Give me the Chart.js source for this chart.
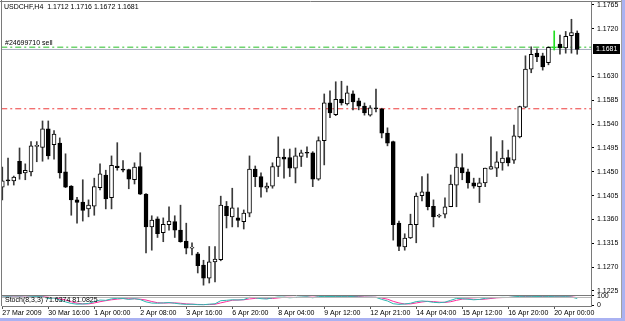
<!DOCTYPE html>
<html><head><meta charset="utf-8">
<script src="https://cdn.jsdelivr.net/npm/chart.js@4/dist/chart.umd.min.js"></script>
<style>
html,body{margin:0;padding:0;background:#fff;}
#wrap{position:relative;width:625px;height:321px;overflow:hidden;background:#fff;}
#band{position:absolute;left:0;top:0;width:625px;height:321px;box-sizing:border-box;border-right:3px solid #aab2f2;border-bottom:3px solid #aab2f2;}
#vline{position:absolute;left:621px;top:0;width:1px;height:318px;background:#a0a0a0;}
canvas{position:absolute;left:0;top:0;}
</style></head><body>
<div id="wrap"><div id="band"></div><div id="vline"></div><canvas id="c" width="625" height="321"></canvas></div>
<script>
const symbolTitle = 'USDCHF,H4  1.1712 1.1716 1.1672 1.1681';
const orderLabel = '#24699710 sell';
const stochLabel = 'Stoch(8,3,3) 71.6374 81.0825';
const timeLabels = ['27 Mar 2009','30 Mar 16:00','1 Apr 00:00','2 Apr 08:00','3 Apr 16:00','6 Apr 20:00','8 Apr 04:00','9 Apr 12:00','12 Apr 21:00','14 Apr 04:00','15 Apr 12:00','16 Apr 20:00','20 Apr 00:00'];
const timeLabelBars = [0,8,16,24,32,40,48,56,64,72,80,88,96];
const priceTicks = [1.1765,1.1720,1.1630,1.1585,1.1540,1.1495,1.1450,1.1405,1.1360,1.1315,1.1270,1.1225];
const stochTicks = [0,100];
const orderPrice = 1.1685;
const stopPrice = 1.1569;
const bidPrice = 1.1681;

const opens = [1.1421,1.1435,1.1433,1.1470,1.1448,1.1450,1.1498,1.1496,1.1531,1.1501,
1.1504,1.1450,1.1423,1.1397,1.1393,1.1380,1.1385,1.1420,1.1444,1.1401,
1.1461,1.1455,1.1454,1.1435,1.1460,1.1408,1.1346,1.1361,1.1335,1.1350,
1.1356,1.1340,1.1319,1.1306,1.1295,1.1274,1.1249,1.1280,1.1284,1.1385,
1.1365,1.1363,1.1356,1.1372,1.1455,1.1441,1.1419,1.1423,1.1460,1.1478,
1.1477,1.1457,1.1479,1.1486,1.1486,1.1436,1.1509,1.1580,1.1558,1.1587,
1.1578,1.1597,1.1584,1.1574,1.1557,1.1571,1.1569,1.1523,1.1507,1.1353,
1.1308,1.1325,1.1350,1.1405,1.1412,1.1385,1.1366,1.1370,1.1384,1.1425,
1.1458,1.1450,1.1429,1.1422,1.1429,1.1455,1.1457,1.1467,1.1477,1.1472,
1.1516,1.1572,1.1644,1.1674,1.1669,1.1656,1.1684,1.1691,1.1684,1.1707,1.1712];
const highs = [1.1459,1.1476,1.1442,1.1495,1.1465,1.1507,1.1507,1.1546,1.1546,1.1528,
1.1514,1.1484,1.1424,1.1402,1.1435,1.1397,1.1438,1.1465,1.1453,1.1480,
1.1505,1.1471,1.1455,1.1467,1.1486,1.1409,1.1367,1.1365,1.1363,1.1384,
1.1367,1.1387,1.1353,1.1316,1.1298,1.1283,1.1309,1.1309,1.1404,1.1394,
1.1419,1.1382,1.1378,1.1480,1.1461,1.1448,1.1429,1.1467,1.1516,1.1493,
1.1493,1.1495,1.1491,1.1497,1.1488,1.1516,1.1597,1.1603,1.1620,1.1621,
1.1612,1.1603,1.1589,1.1580,1.1575,1.1606,1.1570,1.1533,1.1508,1.1357,
1.1333,1.1370,1.1410,1.1441,1.1446,1.1397,1.1370,1.1401,1.1444,1.1484,
1.1484,1.1455,1.1438,1.1438,1.1457,1.1516,1.1488,1.1509,1.1491,1.1538,
1.1574,1.1669,1.1686,1.1682,1.1674,1.1686,1.1716,1.1708,1.1715,1.1738,1.1716];
const lows = [1.1397,1.1425,1.1425,1.1436,1.1435,1.1442,1.1469,1.1470,1.1474,1.1474,
1.1438,1.1420,1.1368,1.1353,1.1357,1.1365,1.1368,1.1416,1.1380,1.1380,
1.1453,1.1450,1.1418,1.1427,1.1407,1.1297,1.1302,1.1326,1.1318,1.1340,
1.1326,1.1317,1.1295,1.1293,1.1259,1.1236,1.1240,1.1242,1.1282,1.1344,
1.1346,1.1346,1.1342,1.1365,1.1422,1.1402,1.1412,1.1419,1.1441,1.1438,
1.1441,1.1429,1.1460,1.1477,1.1422,1.1434,1.1463,1.1552,1.1556,1.1576,
1.1576,1.1567,1.1567,1.1557,1.1555,1.1563,1.1514,1.1499,1.1321,1.1301,
1.1302,1.1324,1.1316,1.1395,1.1378,1.1346,1.1364,1.1363,1.1384,1.1384,
1.1435,1.1419,1.1419,1.1392,1.1422,1.1455,1.1441,1.1453,1.1461,1.1466,
1.1514,1.1571,1.1637,1.1658,1.1642,1.1652,1.1680,1.1672,1.1674,1.1674,1.1672];
const closes = [1.1433,1.1433,1.1440,1.1446,1.1453,1.1499,1.1499,1.1531,1.1480,1.1521,
1.1448,1.1421,1.1397,1.1392,1.1377,1.1387,1.1422,1.1446,1.1399,1.1462,
1.1458,1.1453,1.1436,1.1459,1.1408,1.1346,1.1359,1.1333,1.1351,1.1357,
1.1340,1.1318,1.1306,1.1307,1.1273,1.1249,1.1280,1.1285,1.1387,1.1367,
1.1382,1.1358,1.1372,1.1455,1.1441,1.1421,1.1423,1.1460,1.1478,1.1474,
1.1457,1.1480,1.1486,1.1485,1.1436,1.1509,1.1580,1.1561,1.1587,1.1580,
1.1599,1.1582,1.1574,1.1561,1.1571,1.1569,1.1523,1.1504,1.1350,1.1309,
1.1325,1.1351,1.1404,1.1412,1.1384,1.1365,1.1367,1.1384,1.1427,1.1459,
1.1448,1.1429,1.1423,1.1429,1.1457,1.1460,1.1469,1.1476,1.1467,1.1518,
1.1573,1.1644,1.1672,1.1667,1.1648,1.1685,1.1684,1.1684,1.1706,1.1713,1.1681];
const stochMain = [88,90,86,88,84,90,92,90,72,78,55,35,18,10,12,18,38,55,52,68,74,72,62,70,60,
35,22,20,24,28,20,12,8,9,5,4,10,14,48,52,58,56,60,84,80,70,
66,80,88,86,80,84,88,90,80,92,95,93,95,94,96,92,88,85,86,84,
62,45,15,8,12,20,38,45,40,30,26,32,52,72,70,
64,58,62,74,80,82,84,83,90,95,97,96,94,90,93,91,90,92,88,71.6];
const stochSignal = [86,88,88,88,86,87,89,91,85,80,68,56,36,21,13,13,23,37,48,58,65,71,69,68,64,
55,39,26,22,24,24,20,13,10,7,6,6,9,24,38,53,55,58,67,73,78,
72,72,78,85,85,83,84,87,86,87,89,93,94,94,95,94,92,88,86,85,
77,64,41,23,12,13,23,34,41,38,32,29,37,52,65,
69,64,61,65,72,79,82,83,86,89,94,96,96,93,92,91,91,91,90,81.1];

const FONT = '"Liberation Sans", Arial, sans-serif';
const xMin = -0.05, xMax = 102.4;
const idx = opens.map((_, i) => i);
const bodyData = idx.map(i => ({x: i, y: [opens[i], closes[i]]}));
const wickData = idx.map(i => ({x: i, y: [lows[i], highs[i]]}));
const DOJI = '#22dd22';
const bodyFill = idx.map(i => closes[i] > opens[i] ? '#ffffff' : (closes[i] < opens[i] ? '#000000' : DOJI));
const bodyEdge = idx.map(i => closes[i] === opens[i] ? DOJI : '#000000');
const wickColor = idx.map(i => closes[i] === opens[i] ? DOJI : '#3a3a3a');
const hline = v => [{x: xMin - 5, y: v}, {x: xMax + 5, y: v}];
const noPad = sc => { sc.paddingTop = 0; sc.paddingBottom = 0; sc.paddingLeft = 0; sc.paddingRight = 0; };

const decor = {
  id: 'decor',
  afterDraw(chart) {
    const {ctx, chartArea: a, scales} = chart;
    const y = scales.y, s = scales.s;
    ctx.save();
    ctx.strokeStyle = '#7a7a7a';
    ctx.lineWidth = 1;
    ctx.beginPath();
    ctx.moveTo(0, a.top - 0.5); ctx.lineTo(621, a.top - 0.5);
    ctx.moveTo(a.left - 0.5, 0); ctx.lineTo(a.left - 0.5, a.bottom);
    ctx.moveTo(a.left, y.bottom + 0.5); ctx.lineTo(a.right, y.bottom + 0.5);
    ctx.stroke();
    ctx.strokeStyle = '#b8b8b8';
    ctx.beginPath();
    ctx.moveTo(a.left, s.top + 2.5); ctx.lineTo(a.right, s.top + 2.5);
    ctx.stroke();
    ctx.fillStyle = '#000';
    ctx.font = '7px ' + FONT;
    ctx.textBaseline = 'middle';
    ctx.textAlign = 'left';
    ctx.fillText(symbolTitle, a.left + 2, a.top + 5.5);
    const oy = y.getPixelForValue(orderPrice);
    ctx.fillText(orderLabel, a.left + 3, oy - 4.5);
    ctx.fillText(stochLabel, a.left + 3, s.top + 5);
    const by = Math.round(y.getPixelForValue(bidPrice));
    ctx.fillStyle = '#000';
    ctx.fillRect(a.right + 2, by - 5, 27, 10);
    ctx.fillStyle = '#fff';
    ctx.fillText(bidPrice.toFixed(4), a.right + 5, by);
    ctx.restore();
  }
};

new Chart(document.getElementById('c'), {
  type: 'bar',
  data: { datasets: [
    { type: 'line', data: hline(orderPrice), yAxisID: 'y', xAxisID: 'x', borderColor: '#6fd46f', borderWidth: 1.5, borderDash: [6,3,2,3], pointRadius: 0, order: 4 },
    { type: 'line', data: hline(stopPrice), yAxisID: 'y', xAxisID: 'x', borderColor: '#ee3b3b', borderWidth: 1, borderDash: [6,3,2,3], pointRadius: 0, order: 6 },
    { type: 'line', data: hline(bidPrice), yAxisID: 'y', xAxisID: 'x', borderColor: '#a6aebd', borderWidth: 1, pointRadius: 0, order: 5 },
    { type: 'bar', data: wickData, yAxisID: 'y', xAxisID: 'x', backgroundColor: wickColor, borderWidth: 0, barThickness: 1, grouped: false, order: 3 },
    { type: 'bar', data: bodyData, yAxisID: 'y', xAxisID: 'x', backgroundColor: bodyFill, borderColor: bodyEdge, borderWidth: 1, borderSkipped: false, barThickness: 4, minBarLength: 1, grouped: false, order: 2 },
    { type: 'line', data: stochMain.map((v, i) => ({x: i, y: v})), yAxisID: 's', xAxisID: 'x', borderColor: '#2fb8b0', borderWidth: 1, pointRadius: 0, order: 1 },
    { type: 'line', data: stochSignal.map((v, i) => ({x: i, y: v})), yAxisID: 's', xAxisID: 'x', borderColor: '#ff2a9a', borderWidth: 1, pointRadius: 0, order: 1 }
  ]},
  options: {
    responsive: false,
    animation: false,
    events: [],
    layout: { padding: { left: 2, top: 2, right: 3, bottom: 3 } },
    plugins: { legend: { display: false }, tooltip: { enabled: false }, title: { display: false } },
    scales: {
      x: {
        type: 'linear', position: 'bottom', min: xMin, max: xMax, offset: false,
        afterBuildTicks: sc => { sc.ticks = timeLabelBars.map(v => ({value: v})); },
        afterFit: sc => { sc.height = 12; noPad(sc); },
        ticks: { autoSkip: false, maxRotation: 0, minRotation: 0, align: 'start', padding: 0, color: '#000', font: { family: FONT, size: 7 },
          callback: v => timeLabels[timeLabelBars.indexOf(v)] },
        grid: { offset: false, drawOnChartArea: false, drawTicks: true, tickLength: 3, color: '#555' },
        border: { display: true, color: '#7a7a7a' }
      },
      y: {
        type: 'linear', position: 'right', stack: 'pane', stackWeight: 293,
        min: 1.12174, max: 1.17706,
        afterBuildTicks: sc => { sc.ticks = priceTicks.map(v => ({value: v})); },
        afterFit: sc => { sc.width = 31; noPad(sc); },
        ticks: { autoSkip: false, padding: 3, color: '#000', font: { family: FONT, size: 7 }, callback: v => v.toFixed(4) },
        grid: { drawOnChartArea: false, drawTicks: true, tickLength: 3, color: '#000' },
        border: { display: true, color: '#7a7a7a' }
      },
      s: {
        type: 'linear', position: 'right', stack: 'pane', stackWeight: 11,
        min: -10, max: 110,
        afterBuildTicks: sc => { sc.ticks = stochTicks.map(v => ({value: v})); },
        afterFit: sc => { sc.width = 31; noPad(sc); },
        ticks: { autoSkip: false, padding: 3, color: '#000', font: { family: FONT, size: 7 }, callback: v => String(v) },
        grid: { drawOnChartArea: false, drawTicks: true, tickLength: 3, color: '#000' },
        border: { display: true, color: '#7a7a7a' }
      }
    }
  },
  plugins: [decor]
});
</script>
</body></html>
